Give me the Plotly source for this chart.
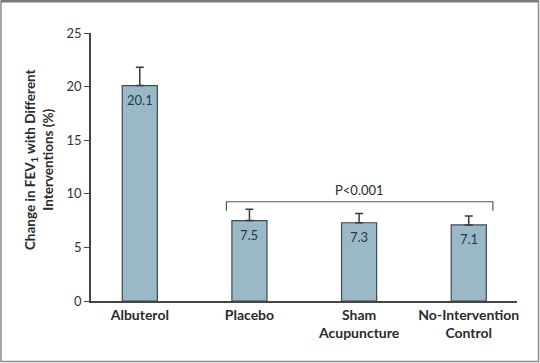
import plotly.graph_objects as go

categories = ["Albuterol", "Placebo", "Sham<br>Acupuncture", "No-Intervention<br>Control"]
values = [20.1, 7.5, 7.3, 7.1]
errors_plus = [1.7, 1.05, 0.87, 0.83]
value_labels = ["20.1", "7.5", "7.3", "7.1"]
y_ticks = [0, 5, 10, 15, 20, 25]

# significance bracket (category index units / data units)
bracket_x = [0.79, 3.22]
bracket_y = 9.26
bracket_drop = 8.43
p_text = "P<0.001"
p_x = 2.0
p_y = 10.35

FONT = "Lato"
BAR = "#9bb8c6"
EDGE = "#3d4a52"
DARK = "#2b2b2b"

fig = go.Figure()
fig.add_trace(go.Bar(
    x=list(range(len(categories))), y=values, width=0.32,
    marker=dict(color=BAR, line=dict(color=EDGE, width=1.2)),
    error_y=dict(type="data", symmetric=False, array=errors_plus,
                 arrayminus=[0] * len(values), color="#3a3a3a", thickness=1.5, width=4),
    hoverinfo="skip",
))

for i, (v, t) in enumerate(zip(values, value_labels)):
    fig.add_annotation(x=i, y=v, text=t, showarrow=False, yshift=-14,
                       font=dict(family=FONT, size=13, color="#1f3c4a"))

# bracket
fig.add_shape(type="path", xref="x", yref="y",
              path=f"M {bracket_x[0]} {bracket_drop} L {bracket_x[0]} {bracket_y} "
                   f"L {bracket_x[1]} {bracket_y} L {bracket_x[1]} {bracket_drop}",
              line=dict(color="#555", width=1.2))
fig.add_annotation(x=p_x, y=p_y, text=p_text, showarrow=False,
                   font=dict(family=FONT, size=13, color=DARK))

# y title
fig.add_annotation(xref="paper", yref="paper", x=-0.122, y=0.526,
                   text="Change in FEV<sub>1</sub> with Different<br>Interventions (%)",
                   textangle=-90, showarrow=False, xanchor="center", yanchor="middle",
                   font=dict(family=FONT, size=13.5, color=DARK, weight="bold"))

# frame
fig.add_shape(type="rect", xref="paper", yref="paper",
              x0=-0.2113, x1=1.0505, y0=-0.2257, y1=1.1194,
              line=dict(color="#8c8c8c", width=1.5))
fig.add_shape(type="line", xref="paper", yref="paper",
              x0=-0.2113, x1=1.0505, y0=1.1194, y1=1.1194,
              line=dict(color="#7a7a7a", width=3))

fig.update_layout(
    width=540, height=363,
    margin=dict(l=91, r=23, t=33, b=62),
    paper_bgcolor="white", plot_bgcolor="white",
    showlegend=False,
    font=dict(family=FONT, size=13, color=DARK),
)
fig.update_xaxes(
    range=[-0.445, 3.44], tickmode="array", tickvals=list(range(len(categories))),
    ticktext=categories, showline=True, linecolor="#444", linewidth=1.5,
    ticks="", showgrid=False, zeroline=False,
    tickfont=dict(family=FONT, size=14, color=DARK, weight="bold"),
)
fig.update_yaxes(
    range=[0, 25], tickvals=y_ticks, showline=True, linecolor="#444", linewidth=1.5,
    ticks="outside", ticklen=5, tickcolor="#444", tickwidth=1.2,
    showgrid=False, zeroline=False,
    tickfont=dict(family=FONT, size=13, color="#333"),
)

fig.write_html("out.html", config={"displayModeBar": False},
               post_script="document.body.style.margin='0';document.body.style.overflow='hidden';")
